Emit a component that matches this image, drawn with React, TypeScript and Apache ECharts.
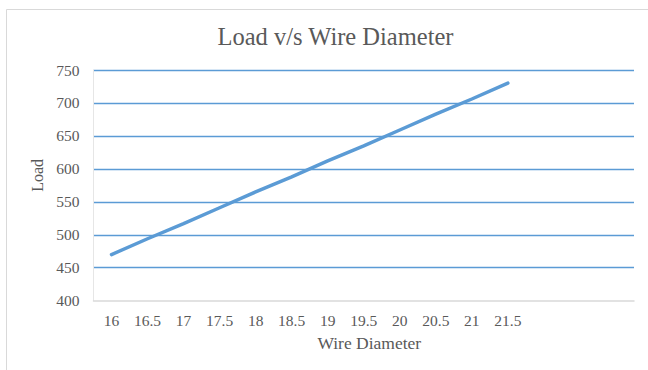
import React, { useEffect, useRef } from "react";
import * as echarts from "echarts";

// Wire diameter categories; the last three slots are left empty on the axis
const diameters = ["16", "16.5", "17", "17.5", "18", "18.5", "19", "19.5", "20", "20.5", "21", "21.5", "", "", ""];
// Load measured at each diameter
const loads = [470, 494, 517, 541, 565, 588, 612, 635, 659, 683, 706, 730];
// Value axis range
const loadMin = 400;
const loadMax = 750;
const loadStep = 50;

const TEXT = "#595959";
const BLUE = "#5B9BD5";
const FONT = "'Liberation Serif', 'Times New Roman', serif";

export default function App() {
  const ref = useRef<HTMLDivElement>(null);

  useEffect(() => {
    if (!ref.current) return;
    const chart = echarts.init(ref.current, undefined, { renderer: "svg" });
    chart.setOption({
      animation: false,
      backgroundColor: "#ffffff",
      textStyle: { fontFamily: FONT },
      title: {
        text: "Load v/s Wire Diameter",
        left: 330.5,
        top: 19,
        textAlign: "center",
        textStyle: { fontFamily: FONT, fontSize: 24.5, fontWeight: "normal", color: TEXT },
      },
      graphic: [
        {
          type: "rect",
          shape: { x: 6.5, y: 9.5, width: 700, height: 400 },
          style: { fill: "none", stroke: "#D9D9D9", lineWidth: 1 },
          silent: true,
        },
      ],
      grid: { left: 93.5, right: 14, top: 70, bottom: 69.3, containLabel: false },
      xAxis: {
        type: "category",
        data: diameters,
        boundaryGap: true,
        name: "Wire Diameter",
        nameLocation: "middle",
        nameGap: 28,
        nameTextStyle: { fontFamily: FONT, fontSize: 17.5, color: TEXT, padding: [0, 0, 0, 11] },
        axisLine: { show: true, lineStyle: { color: "#D9D9D9", width: 1.5 } },
        axisTick: { show: false },
        axisLabel: { fontFamily: FONT, fontSize: 15.5, color: TEXT, margin: 12, interval: 0 },
        splitLine: { show: false },
      },
      yAxis: {
        type: "value",
        min: loadMin,
        max: loadMax,
        interval: loadStep,
        name: "Load",
        nameLocation: "middle",
        nameRotate: 90,
        nameGap: 43,
        nameTextStyle: { fontFamily: FONT, fontSize: 16, color: TEXT, padding: [0, 0, 0, 20] },
        axisLine: { show: true, lineStyle: { color: "#E6E6E6", width: 1 } },
        axisTick: { show: false },
        axisLabel: { fontFamily: FONT, fontSize: 15.5, color: TEXT, margin: 14 },
        splitLine: { show: true, showMinLine: false, lineStyle: { color: BLUE, width: 1.3 } },
      },
      series: [
        {
          type: "line",
          data: loads,
          showSymbol: false,
          symbol: "none",
          lineStyle: { color: BLUE, width: 3.5, cap: "round" },
          itemStyle: { color: BLUE },
        },
      ],
    });
    return () => chart.dispose();
  }, []);

  return (
    <div
      ref={ref}
      style={{ position: "fixed", left: 0, top: 0, width: 648, height: 370, background: "#fff" }}
    />
  );
}
